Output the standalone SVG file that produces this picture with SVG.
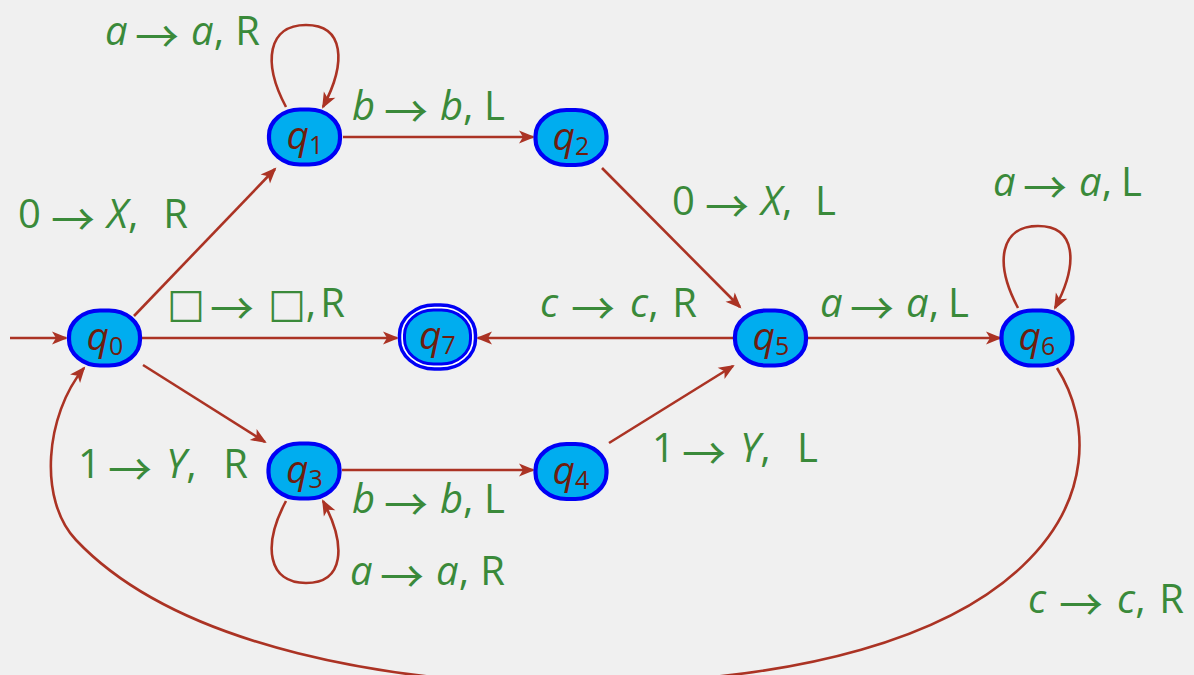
<svg xmlns="http://www.w3.org/2000/svg" width="1194" height="675" viewBox="0 0 1194 675">
  <style>
    .bg { fill: #f0f0f0; }
    .state rect { fill: #00adef; stroke: #0000f5; stroke-width: 4.2; }
    .state rect.ring { fill: #ffffff; stroke-width: 3.5; }
    .state rect.inner { stroke-width: 3; }
    .name { font-family: "Open Sans", "DejaVu Sans", sans-serif; font-size: 39px; fill: #6e1d0e; text-anchor: middle; }
    .name .q { font-style: italic; }
    .name .sub { font-size: 25px; }
    .edge { fill: none; stroke: #ab3324; stroke-width: 2.6; marker-end: url(#head); }
    .lbl { font-family: "Open Sans", "DejaVu Sans", sans-serif; font-size: 40px; fill: #3a8a3a; }
    .lbl .v { font-style: italic; }
    .lbl .arr { font-family: "Noto Sans CJK SC", "Liberation Sans", sans-serif; font-size: 44px; text-anchor: middle; }
    .lbl .end { text-anchor: end; }
  </style>
  <defs>
    <marker id="head" markerUnits="userSpaceOnUse" viewBox="-16 -8 19 16" refX="0" refY="0" markerWidth="19" markerHeight="16" orient="auto">
      <path d="M2,0 L-14,-6.5 L-10,0 L-14,6.5 Z" fill="#ab3324"/>
    </marker>
  </defs>

  <rect class="bg" x="0" y="0" width="1194" height="675"/>

  <!-- transitions -->
  <g id="connectors">
    <path class="edge" d="M10,338 L66,338"/>
    <path class="edge" d="M134,316 L275,169"/>
    <path class="edge" d="M343,137 L533,137"/>
    <path class="edge" d="M602,168 L740,307"/>
    <path class="edge" d="M142,338 L397,338"/>
    <path class="edge" d="M733,338 L478,338"/>
    <path class="edge" d="M808,338 L1000,338"/>
    <path class="edge" d="M143,365 L265,442"/>
    <path class="edge" d="M342,470 L533,470"/>
    <path class="edge" d="M609,443 L733,366"/>
    <!-- self loops -->
    <path class="edge" d="M286,107 C262,62 268,25 306,25 C344,25 347,62 323,107"/>
    <path class="edge" d="M1018,308 C994,263 1000,226 1038,226 C1076,226 1079,263 1055,308"/>
    <path class="edge" d="M286,501 C262,546 268,583 306,583 C344,583 347,546 323,501"/>
    <!-- q6 back to q0 -->
    <path class="edge" d="M1057,368 C1125,475 1060,684 567,684 C400,684 180,650 76,540 C38,500 45,415 84,368"/>
  </g>

  <!-- states -->
  <g id="q0" class="state">
    <rect x="69" y="310.5" width="71" height="55" rx="31" ry="26"/>
    <text class="name" x="105" y="350"><tspan class="q">q</tspan><tspan class="sub" dy="5">0</tspan></text>
  </g>
  <g id="q1" class="state">
    <rect x="269" y="109.5" width="71" height="55" rx="31" ry="26"/>
    <text class="name" x="305" y="149"><tspan class="q">q</tspan><tspan class="sub" dy="5">1</tspan></text>
  </g>
  <g id="q2" class="state">
    <rect x="535.5" y="110" width="71" height="55" rx="31" ry="26"/>
    <text class="name" x="571" y="149.5"><tspan class="q">q</tspan><tspan class="sub" dy="5">2</tspan></text>
  </g>
  <g id="q3" class="state">
    <rect x="268.5" y="443.5" width="71" height="55" rx="31" ry="26"/>
    <text class="name" x="304.5" y="483"><tspan class="q">q</tspan><tspan class="sub" dy="5">3</tspan></text>
  </g>
  <g id="q4" class="state">
    <rect x="535.5" y="444" width="71" height="55" rx="31" ry="26"/>
    <text class="name" x="571" y="483.5"><tspan class="q">q</tspan><tspan class="sub" dy="5">4</tspan></text>
  </g>
  <g id="q5" class="state">
    <rect x="735" y="310.5" width="71" height="55" rx="31" ry="26"/>
    <text class="name" x="771" y="350"><tspan class="q">q</tspan><tspan class="sub" dy="5">5</tspan></text>
  </g>
  <g id="q6" class="state">
    <rect x="1001.5" y="310.5" width="71" height="55" rx="31" ry="26"/>
    <text class="name" x="1037" y="350"><tspan class="q">q</tspan><tspan class="sub" dy="5">6</tspan></text>
  </g>
  <g id="q7" class="state">
    <rect class="ring" x="399.5" y="305" width="76" height="64" rx="35" ry="30"/>
    <rect class="inner" x="404.5" y="310" width="66" height="54" rx="29" ry="25"/>
    <text class="name" x="437.5" y="349"><tspan class="q">q</tspan><tspan class="sub" dy="5">7</tspan></text>
  </g>

  <!-- transition labels: symbol, arrow, symbol with comma, head move -->
  <g id="labels">
    <text class="lbl" y="45"><tspan class="v" x="105">a</tspan><tspan class="arr" x="157" dy="8">→</tspan><tspan class="v" x="191" dy="-8">a</tspan>,<tspan class="end" x="260">R</tspan></text>
    <text class="lbl" y="120"><tspan class="v" x="352">b</tspan><tspan class="arr" x="406" dy="8">→</tspan><tspan class="v" x="440" dy="-8">b</tspan>,<tspan class="end" x="505">L</tspan></text>
    <text class="lbl" y="228"><tspan x="18">0</tspan><tspan class="arr" x="73" dy="8">→</tspan><tspan class="v" x="107" dy="-8">X</tspan>,<tspan class="end" x="188">R</tspan></text>
    <text class="lbl" y="215"><tspan x="672">0</tspan><tspan class="arr" x="727" dy="8">→</tspan><tspan class="v" x="761" dy="-8">X</tspan>,<tspan class="end" x="836">L</tspan></text>
    <text class="lbl" y="196"><tspan class="v" x="993">a</tspan><tspan class="arr" x="1045" dy="8">→</tspan><tspan class="v" x="1079" dy="-8">a</tspan>,<tspan class="end" x="1142">L</tspan></text>
    <text class="lbl" y="317"><tspan x="167">□</tspan><tspan class="arr" x="232" dy="8">→</tspan><tspan x="268" dy="-8">□</tspan>,<tspan class="end" x="345">R</tspan></text>
    <text class="lbl" y="317"><tspan class="v" x="540">c</tspan><tspan class="arr" x="593" dy="8">→</tspan><tspan class="v" x="630" dy="-8">c</tspan>,<tspan class="end" x="697">R</tspan></text>
    <text class="lbl" y="317"><tspan class="v" x="820">a</tspan><tspan class="arr" x="872" dy="8">→</tspan><tspan class="v" x="906" dy="-8">a</tspan>,<tspan class="end" x="969">L</tspan></text>
    <text class="lbl" y="478"><tspan x="78">1</tspan><tspan class="arr" x="130" dy="8">→</tspan><tspan class="v" x="166" dy="-8">Y</tspan>,<tspan class="end" x="248">R</tspan></text>
    <text class="lbl" y="513"><tspan class="v" x="352">b</tspan><tspan class="arr" x="406" dy="8">→</tspan><tspan class="v" x="440" dy="-8">b</tspan>,<tspan class="end" x="505">L</tspan></text>
    <text class="lbl" y="462"><tspan x="652">1</tspan><tspan class="arr" x="704" dy="8">→</tspan><tspan class="v" x="740" dy="-8">Y</tspan>,<tspan class="end" x="818">L</tspan></text>
    <text class="lbl" y="585"><tspan class="v" x="350">a</tspan><tspan class="arr" x="402" dy="8">→</tspan><tspan class="v" x="436" dy="-8">a</tspan>,<tspan class="end" x="505">R</tspan></text>
    <text class="lbl" y="613"><tspan class="v" x="1028">c</tspan><tspan class="arr" x="1081" dy="8">→</tspan><tspan class="v" x="1117" dy="-8">c</tspan>,<tspan class="end" x="1184">R</tspan></text>
  </g>
</svg>
